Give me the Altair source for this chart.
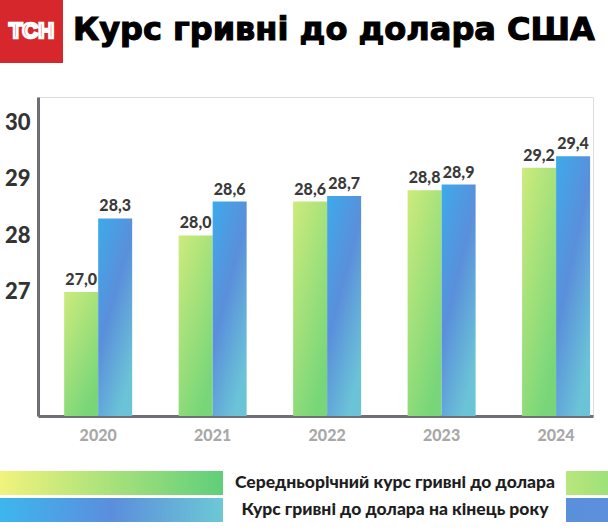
import altair as alt
import pandas as pd

# ---- data ----
years = ["2020", "2021", "2022", "2023", "2024"]
avg_rate = [27.0, 28.0, 28.6, 28.8, 29.2]
end_rate = [28.3, 28.6, 28.7, 28.9, 29.4]
series_names = ["Середньорічний курс гривні до долара", "Курс гривні до долара на кінець року"]
y_ticks = [27, 28, 29, 30]
title_text = "Курс гривні до долара США"
logo_text = "ТСН"

rows = []
for yr, a, e in zip(years, avg_rate, end_rate):
    rows.append({"year": yr, "series": series_names[0], "value": a})
    rows.append({"year": yr, "series": series_names[1], "value": e})
df = pd.DataFrame(rows)
df["label"] = df["value"].map(lambda v: f"{v:.1f}".replace(".", ","))

W, H = 555, 319
Y_MIN, Y_MAX = 24.805, 30.45
NUM_FONT = "Lato"
TITLE_FONT = "DejaVu Sans"

green_grad = alt.LinearGradient(
    gradient="linear", x1=0, y1=0, x2=0.6, y2=1,
    stops=[alt.GradientStop(offset=0, color="#cdeb7c"),
           alt.GradientStop(offset=1, color="#78d679")])
blue_grad = alt.LinearGradient(
    gradient="linear", x1=0, y1=0, x2=0.6, y2=1,
    stops=[alt.GradientStop(offset=0, color="#3daaea"),
           alt.GradientStop(offset=0.5, color="#5a8fdb"),
           alt.GradientStop(offset=1, color="#6bc3d7")])

base = alt.Chart(df).encode(
    x=alt.X("year:N", sort=years,
            scale=alt.Scale(paddingInner=0.406, paddingOuter=0.127, align=0.9),
            axis=alt.Axis(title=None, labelAngle=0, ticks=False, labelPadding=11,
                          labelFont=NUM_FONT, labelFontSize=16, labelFontWeight=900,
                          labelColor="#a8a8a8", domainColor="#6d6f74", domainWidth=3,
                          grid=False)),
    xOffset=alt.XOffset("series:N", sort=series_names,
                        scale=alt.Scale(domain=series_names, paddingInner=0, paddingOuter=0)),
    y=alt.Y("value:Q", stack=None,
            scale=alt.Scale(domain=[Y_MIN, Y_MAX], zero=False, nice=False),
            axis=alt.Axis(title=None, values=y_ticks, ticks=False, grid=False,
                          labelFont=NUM_FONT, labelFontSize=22, labelFontWeight=900,
                          labelColor="#333333", labelPadding=8,
                          domainColor="#6d6f74", domainWidth=3)),
)

green = base.mark_bar(color=green_grad, clip=True).encode(
    y2=alt.Y2(datum=Y_MIN)).transform_filter(alt.datum.series == series_names[0])
blue = base.mark_bar(color=blue_grad, clip=True).encode(
    y2=alt.Y2(datum=Y_MIN)).transform_filter(alt.datum.series == series_names[1])
labels = base.mark_text(baseline="bottom", dy=-4, font=NUM_FONT, fontSize=16,
                        fontWeight=900, color="#3a3a3a").encode(text="label:N")

one = pd.DataFrame({"k": [0]})
deco = alt.Chart(one)

logo_box = deco.mark_rect(color="#d5272c").encode(
    x=alt.value(-38), x2=alt.value(25), y=alt.value(-97), y2=alt.value(-34))
logo = deco.mark_text(text=logo_text, font="Liberation Sans", fontSize=22, fontWeight="bold",
                      fill="#d5272c", stroke="white", strokeWidth=2.6,
                      align="center", baseline="middle").encode(
    x=alt.value(-6.5), y=alt.value(-66.5))
title = deco.mark_text(text=title_text, font=TITLE_FONT, fontSize=32, fontWeight="bold",
                       color="#000000", align="left", baseline="alphabetic",
                       stroke="#000000", strokeWidth=1.1).encode(
    x=alt.value(35), y=alt.value(-57))

leg1_grad = alt.LinearGradient(
    gradient="linear", x1=0, y1=0, x2=1, y2=0,
    stops=[alt.GradientStop(offset=0, color="#f1f37c"),
           alt.GradientStop(offset=1, color="#5fcf7a")])
leg1_sw = alt.LinearGradient(
    gradient="linear", x1=0, y1=0, x2=1, y2=0,
    stops=[alt.GradientStop(offset=0, color="#b9e77b"),
           alt.GradientStop(offset=1, color="#9ee17a")])
leg2_grad = alt.LinearGradient(
    gradient="linear", x1=0, y1=0, x2=1, y2=0,
    stops=[alt.GradientStop(offset=0, color="#3db6ee"),
           alt.GradientStop(offset=0.5, color="#5b8edc"),
           alt.GradientStop(offset=1, color="#6dc8d5")])
leg2_sw = alt.LinearGradient(
    gradient="linear", x1=0, y1=0, x2=1, y2=0,
    stops=[alt.GradientStop(offset=0, color="#5a8fdc"),
           alt.GradientStop(offset=1, color="#5c90dc")])

leg_layers = []
for i, (g, sw) in enumerate([(leg1_grad, leg1_sw), (leg2_grad, leg2_sw)]):
    top = 374 + i * 27
    leg_layers.append(deco.mark_rect(color=g).encode(
        x=alt.value(-38), x2=alt.value(185), y=alt.value(top), y2=alt.value(top + 24)))
    leg_layers.append(deco.mark_rect(color=sw).encode(
        x=alt.value(528), x2=alt.value(570), y=alt.value(top), y2=alt.value(top + 24)))
    leg_layers.append(deco.mark_text(text=series_names[i], font=NUM_FONT, fontSize=17.5,
                                     fontWeight=900, color="#1e1e1e", align="center",
                                     baseline="middle").encode(
        x=alt.value(357), y=alt.value(top + 12)))

chart = alt.layer(green, blue, labels, logo_box, logo, title, *leg_layers).properties(
    width=W, height=H,
    autosize=alt.AutoSizeParams(type="none"),
    padding={"left": 38, "top": 97, "right": 15, "bottom": 114},
).configure_view(stroke=None).configure(background="white")

chart.save("out.html", embed_options={"renderer": "svg", "actions": False})
